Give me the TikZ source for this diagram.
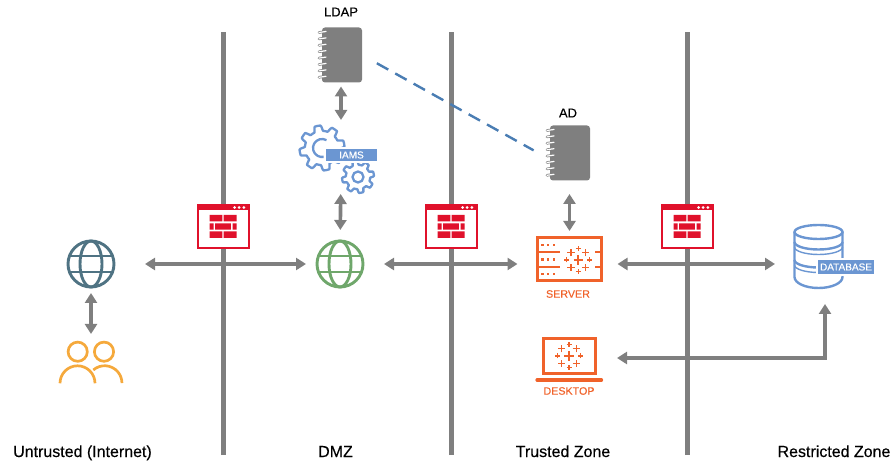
\documentclass[tikz,border=0pt]{standalone}
\usepackage{fontspec}
\setmainfont{Liberation Sans}
\newfontfamily\medfont[FakeBold=0.3]{Liberation Sans}
\usetikzlibrary{arrows.meta,positioning}
\def\px{0.02cm}
\definecolor{barcol}{HTML}{7F7F7F}
\definecolor{fwred}{HTML}{E0112B}
\definecolor{tabor}{HTML}{F0622A}
\definecolor{lineblue}{HTML}{4A7DB3}
\definecolor{iconblue}{HTML}{6B96D2}
\definecolor{netcol}{HTML}{4F7383}
\definecolor{dmzcol}{HTML}{6FA76B}
\definecolor{usercol}{HTML}{F5A93C}
\tikzstyle{iconbox}=[inner sep=0pt,outer sep=0pt,draw=none]
\tikzstyle{zonebar}=[barcol,line width=5*\px]
\tikzstyle{link}=[draw=barcol,line width=3.6*\px,{Triangle[width=12*\px,length=10*\px]}-{Triangle[width=12*\px,length=10*\px]},color=barcol]
\tikzstyle{dashlink}=[draw=lineblue,line width=2.4*\px,dash pattern=on 13*\px off 8*\px]
\tikzstyle{zonetext}=[font=\medfont\fontsize{9.1}{11}\selectfont,anchor=base,inner sep=0pt]
\tikzstyle{toptext}=[font=\medfont\fontsize{7.4}{9}\selectfont,inner sep=0pt]
\tikzstyle{ortext}=[font=\medfont\fontsize{6.1}{8}\selectfont,text=tabor,inner sep=0pt]
\tikzstyle{tagbox}=[fill=iconblue,draw=white,line width=1.2*\px,text=white,font=\medfont\fontsize{5.7}{7}\selectfont,inner sep=0pt]
\tikzstyle{gearline}=[iconblue,line width=2.3*\px,line join=round]
% one rounded tooth wheel: x, y, radius, teeth
\newcommand{\gearwheel}[4]{
  \draw[gearline] plot[domain=0:360,samples=181]
    ({#1+(#3-.12*#3+.12*#3*max(-1,min(1,2.4*sin(#4*\x))))*cos(\x)},
     {#2+(#3-.12*#3+.12*#3*max(-1,min(1,2.4*sin(#4*\x))))*sin(\x)}) -- cycle;
}
\tikzset{
  globe/.pic={
    \begin{scope}[line width=2.9*\px]
      \draw (0,0) circle (23);
      \draw (0,0) ellipse (11 and 23);
      \draw (-21,8) -- (21,8) (-21,-8) -- (21,-8);
    \end{scope}
  },
  notebook/.pic={
    \fill[barcol,rounded corners=3*\px] (-20,-27.5) -| (20,27.5) -| cycle;
    \foreach \r in {0,...,7}{
      \draw[barcol,line width=2.6*\px,line cap=round] (-23,22.5-\r*6.4) -- (-16,23.5-\r*6.4);
      \draw[white,line width=1.2*\px,line cap=round] (-23,22.5-\r*6.4) -- (-16,23.5-\r*6.4);
    }
  },
  tablogo/.pic={
    \begin{scope}[tabor,line width=1.3*\px]
      \draw[line width=1.8*\px] (-4.8,0) -- (4.8,0) (0,-4.8) -- (0,4.8);
      \foreach \a/\b in {-7.3/7.3,7.3/7.3,-7.3/-7.3,7.3/-7.3}
        \draw[line width=1.5*\px] (\a-3.6,\b) -- (\a+3.6,\b) (\a,\b-3.6) -- (\a,\b+3.6);
      \foreach \a/\b in {-11.5/0,11.5/0,0/11.5,0/-11.5}
        \draw (\a-2.5,\b) -- (\a+2.5,\b) (\a,\b-2.5) -- (\a,\b+2.5);
    \end{scope}
  },
  firewall/.pic={
    \draw[fwred,fill=white,line width=2*\px] (-25.5,-21.5) rectangle (25.5,21.5);
    \fill[fwred] (-26,16) rectangle (26,22);
    \foreach \a in {11.5,16.2,20.8} \fill[white] (\a,19) circle (1.5);
    \begin{scope}[fwred]
      \fill (-13.5,5) rectangle (-.7,11.5) (.7,5) rectangle (13.5,11.5);
      \fill (-13.5,-3.2) rectangle (-9.5,3.2) (-7.8,-3.2) rectangle (7.8,3.2) (9.5,-3.2) rectangle (13.5,3.2);
      \fill (-13.5,-11.5) rectangle (-.7,-5) (.7,-11.5) rectangle (13.5,-5);
    \end{scope}
  },
}
\begin{document}
\begin{tikzpicture}[x=\px,y=\px]
  \useasboundingbox (0,0) rectangle (892,463);
  \foreach \x in {223,451,687}
    \draw[zonebar] (\x,8) -- (\x,431);
  \foreach \x/\n in {223/1,451/2,687/3}
    \pic at (\x,236.5) {firewall};

  % icons as named boxes
  \node[iconbox,minimum width=48*\px,minimum height=48*\px] (internet) at (91,199) {};
  \node[iconbox,minimum width=66*\px,minimum height=40*\px] (users) at (91,107) {};
  \node[iconbox,minimum width=48*\px,minimum height=48*\px] (dmz) at (340,199) {};
  \node[iconbox,minimum width=42*\px,minimum height=55*\px] (ldap) at (341,408) {};
  \node[iconbox,minimum width=76*\px,minimum height=65*\px] (iams) at (341,305.5) {};
  \node[iconbox,minimum width=42*\px,minimum height=55*\px] (ad) at (569.5,310) {};
  \node[iconbox,minimum width=66*\px,minimum height=46*\px] (server) at (569.5,199) {};
  \node[iconbox,minimum width=68*\px,minimum height=44*\px] (desktop) at (569,105) {};
  \node[iconbox,minimum width=62*\px,minimum height=76*\px] (db) at (825,199) {};

  \pic[netcol] at (internet) {globe};
  \pic[dmzcol] at (dmz) {globe};
  \pic at (342,408) {notebook};
  \pic at (570,310) {notebook};

  % users
  \begin{scope}[usercol,line width=2.7*\px]
    \draw (77.7,111.3) circle (9.6);
    \draw (104,111.3) circle (9.6);
    \draw (60,79.7) arc (180:0:17.5);
    \draw (93.3,93) arc (131:0:17.3);
  \end{scope}

  % gears
  \gearwheel{322}{315}{22.5}{8}
  \gearwheel{358}{286}{16}{8}
  \draw[gearline] (326.5,322.8) arc (60:280:9);
  \draw[gearline] (358,286) circle (5.5);
  \node[tagbox,minimum width=53*\px,minimum height=14*\px] (iamstag) at (351.5,308) {IAMS};

  % server
  \begin{scope}[tabor]
    \draw[line width=3*\px] (537.2,182) rectangle (601.8,225);
    \draw[line width=1.5*\px] (537,211) -- (560,211) (537,196) -- (560,196)
      (595,211) -- (602,211) (595,196) -- (602,196);
    \foreach \b in {218,203.5,189} \foreach \a in {542.5,548,553.7}
      \fill (\a-1.2,\b-1.2) rectangle (\a+1.2,\b+1.2);
  \end{scope}
  \pic at (578.3,203) {tablogo};

  % desktop
  \begin{scope}[tabor]
    \draw[line width=3.4*\px] (543.3,89.5) rectangle (595.2,124.2);
    \draw[line width=3.2*\px,line cap=round] (537,83) -- (601.5,83);
  \end{scope}
  \pic at (569,107) {tablogo};

  % database
  \begin{scope}[iconblue,line width=2.4*\px]
    \draw (818.5,231) ellipse (24 and 7);
    \draw (794.5,231) -- (794.5,186) arc (180:360:24 and 11) -- (842.5,231);
    \draw (794.5,221) arc (180:360:24 and 7.5);
    \draw (794.5,203) arc (180:360:24 and 7.5);
    \draw[line width=1.4*\px] (794.5,216) arc (180:360:24 and 7.5);
    \draw[line width=1.4*\px] (794.5,198) arc (180:360:24 and 7.5);
  \end{scope}
  \node[tagbox,minimum width=58*\px,minimum height=16*\px] (dbtag) at (846,196) {DATABASE};

  % connectors
  \draw[link,shorten <=30*\px,shorten >=10*\px] (internet) -- (dmz);
  \draw[link,shorten <=20*\px,shorten >=19*\px] (dmz) -- (server);
  \draw[link,shorten <=15*\px,shorten >=19*\px] (server) -- (db);
  \draw[link,shorten <=5*\px,shorten >=2*\px] (internet) -- (users);
  \draw[link,shorten <=4*\px,shorten >=5*\px] (ldap) -- (iams);
  \draw[link,shorten <=4*\px,shorten >=10*\px] (iams) -- (dmz);
  \draw[link,shorten <=13.5*\px,shorten >=10*\px] (ad) -- (server);
  \draw[link,shorten <=14*\px,shorten >=2*\px] (desktop) -| (db);
  \draw[dashlink,shorten <=17*\px,shorten >=17*\px] (ldap.east) -- (ad.195);

  % labels
  \node[toptext] (ldaptext) at (341,451) {LDAP};
  \node[toptext] (adtext) at (568,350) {AD};
  \node[ortext] (servertext) at (568,169) {SERVER};
  \node[ortext] (desktoptext) at (569,72) {DESKTOP};
  \node[zonetext] (untrusted) at (82.5,6) {Untrusted (Internet)};
  \node[zonetext] (dmzzone) at (335.5,6) {DMZ};
  \node[zonetext] (trusted) at (563,6) {Trusted Zone};
  \node[zonetext] (restricted) at (834,6) {Restricted Zone};
\end{tikzpicture}
\end{document}
